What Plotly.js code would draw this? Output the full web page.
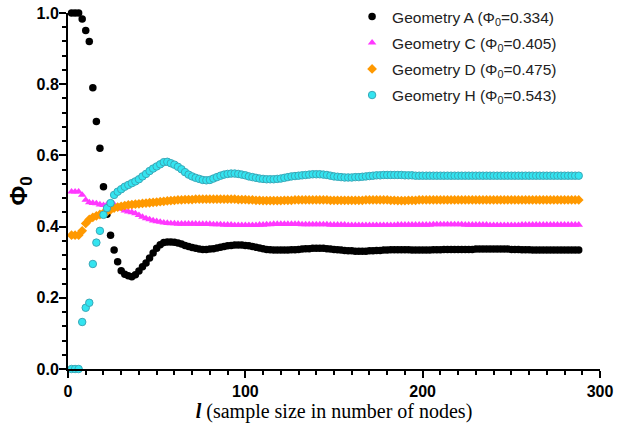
<!DOCTYPE html>
<html>
<head>
<meta charset="utf-8">
<script src="https://cdn.plot.ly/plotly-3.0.1.min.js"></script>
<style>html,body{margin:0;padding:0;background:#fff;}#chart{width:620px;height:427px;}</style>
</head>
<body>
<div id="chart"></div>
<script>
// sample size l = 2, 4, ..., 288
const sampleSize = [];
for (let l = 2; l <= 288; l += 2) sampleSize.push(l);

const seriesNames = [
  "Geometry A (Φ<sub>0</sub>=0.334)",
  "Geometry C (Φ<sub>0</sub>=0.405)",
  "Geometry D (Φ<sub>0</sub>=0.475)",
  "Geometry H (Φ<sub>0</sub>=0.543)"
];

const geomA = [
  1.0,1.0,1.0,0.983,0.951,0.92,0.79,0.695,0.62,0.512,
  0.435,0.376,0.334,0.301,0.276,0.266,0.262,0.259,0.265,0.275,
  0.287,0.298,0.312,0.326,0.339,0.349,0.355,0.357,0.357,0.356,
  0.354,0.351,0.347,0.344,0.341,0.339,0.337,0.336,0.336,0.337,
  0.338,0.340,0.342,0.344,0.346,0.347,0.348,0.348,0.348,0.347,
  0.346,0.344,0.342,0.340,0.338,0.336,0.335,0.334,0.334,0.334,
  0.334,0.334,0.335,0.335,0.336,0.337,0.338,0.338,0.339,0.339,
  0.339,0.339,0.338,0.337,0.336,0.335,0.334,0.333,0.332,0.332,
  0.331,0.331,0.331,0.331,0.332,0.332,0.333,0.333,0.334,0.334,
  0.335,0.335,0.335,0.335,0.335,0.335,0.334,0.334,0.334,0.334,
  0.334,0.334,0.335,0.335,0.335,0.336,0.336,0.336,0.336,0.336,
  0.336,0.336,0.336,0.336,0.337,0.337,0.337,0.337,0.337,0.337,
  0.337,0.337,0.337,0.337,0.336,0.336,0.336,0.335,0.335,0.335,
  0.334,0.334,0.334,0.334,0.334,0.334,0.334,0.334,0.334,0.334,
  0.334,0.334,0.334,0.334
];

const geomC = [
  0.498,0.498,0.498,0.489,0.475,0.468,0.466,0.465,0.462,0.460,
  0.462,0.466,0.462,0.455,0.450,0.445,0.442,0.440,0.437,0.432,
  0.427,0.423,0.420,0.417,0.415,0.413,0.411,0.410,0.409,0.409,
  0.408,0.408,0.408,0.408,0.408,0.408,0.407,0.407,0.407,0.407,
  0.406,0.406,0.406,0.405,0.405,0.405,0.404,0.404,0.404,0.404,
  0.404,0.404,0.404,0.405,0.405,0.406,0.406,0.407,0.407,0.407,
  0.407,0.407,0.407,0.407,0.407,0.406,0.406,0.406,0.406,0.406,
  0.406,0.406,0.406,0.405,0.405,0.405,0.405,0.405,0.404,0.404,
  0.404,0.404,0.404,0.404,0.404,0.404,0.404,0.404,0.404,0.404,
  0.404,0.404,0.405,0.405,0.405,0.405,0.405,0.405,0.405,0.405,
  0.405,0.405,0.406,0.406,0.406,0.406,0.406,0.406,0.406,0.406,
  0.406,0.405,0.405,0.405,0.405,0.405,0.405,0.405,0.404,0.404,
  0.404,0.404,0.404,0.404,0.404,0.404,0.404,0.405,0.405,0.405,
  0.405,0.405,0.405,0.405,0.405,0.405,0.405,0.405,0.405,0.405,
  0.405,0.405,0.405,0.405
];

const geomD = [
  0.376,0.376,0.376,0.388,0.409,0.420,0.426,0.430,0.434,0.438,
  0.442,0.447,0.452,0.455,0.457,0.459,0.461,0.462,0.463,0.464,
  0.465,0.466,0.467,0.468,0.469,0.470,0.471,0.472,0.473,0.474,
  0.475,0.475,0.476,0.476,0.476,0.477,0.477,0.477,0.477,0.477,
  0.477,0.477,0.477,0.477,0.477,0.477,0.477,0.476,0.476,0.476,
  0.475,0.475,0.474,0.474,0.473,0.473,0.473,0.473,0.473,0.473,
  0.474,0.474,0.474,0.475,0.475,0.475,0.475,0.475,0.475,0.475,
  0.475,0.475,0.475,0.474,0.474,0.474,0.474,0.474,0.474,0.474,
  0.474,0.474,0.474,0.475,0.475,0.475,0.475,0.475,0.475,0.475,
  0.474,0.474,0.473,0.473,0.473,0.474,0.474,0.474,0.475,0.475,
  0.475,0.475,0.475,0.475,0.475,0.475,0.475,0.475,0.475,0.475,
  0.475,0.475,0.475,0.475,0.475,0.475,0.475,0.475,0.475,0.475,
  0.475,0.475,0.475,0.475,0.475,0.475,0.475,0.475,0.475,0.475,
  0.475,0.475,0.475,0.475,0.475,0.475,0.475,0.475,0.475,0.475,
  0.475,0.475,0.475,0.475
];

const geomH = [
  0.0,0.0,0.0,0.132,0.172,0.186,0.295,0.355,0.388,0.433,
  0.452,0.466,0.489,0.498,0.505,0.512,0.517,0.522,0.527,0.533,
  0.541,0.548,0.556,0.563,0.569,0.575,0.581,0.582,0.578,0.574,
  0.568,0.561,0.553,0.546,0.541,0.537,0.534,0.531,0.530,0.531,
  0.535,0.539,0.543,0.546,0.548,0.549,0.549,0.548,0.546,0.544,
  0.541,0.539,0.537,0.535,0.534,0.533,0.533,0.533,0.534,0.535,
  0.537,0.539,0.541,0.542,0.543,0.544,0.545,0.546,0.547,0.547,
  0.547,0.546,0.545,0.543,0.541,0.540,0.539,0.538,0.538,0.538,
  0.539,0.539,0.540,0.541,0.542,0.543,0.544,0.544,0.545,0.545,
  0.545,0.545,0.545,0.545,0.544,0.544,0.544,0.543,0.543,0.543,
  0.543,0.543,0.543,0.543,0.543,0.543,0.543,0.543,0.543,0.543,
  0.543,0.543,0.543,0.543,0.543,0.543,0.543,0.543,0.543,0.543,
  0.543,0.543,0.543,0.543,0.543,0.543,0.543,0.543,0.543,0.543,
  0.543,0.543,0.543,0.543,0.543,0.543,0.543,0.543,0.543,0.543,
  0.543,0.543,0.543,0.543
];

const xTickVals = [0, 100, 200, 300];
const yTickVals = [0.0, 0.2, 0.4, 0.6, 0.8, 1.0];

function mk(y, name, marker, grp) {
  return {x: sampleSize, y: y, name: name, type: 'scatter', mode: 'markers',
          marker: marker, cliponaxis: false, legendgroup: grp};
}

const traces = [
  mk(geomA, seriesNames[0], {symbol: 'circle', size: 7.5, color: '#000000'}, 'a'),
  mk(geomC, seriesNames[1], {symbol: 'triangle-up', size: 7.5, color: '#ff38ff'}, 'c'),
  mk(geomD, seriesNames[2], {symbol: 'diamond', size: 7.5, color: '#ff9900'}, 'd'),
  mk(geomH, seriesNames[3], {symbol: 'circle', size: 7.5, color: '#33e4f0', line: {color: '#3aa8b8', width: 1}}, 'h')
];

const tickFont = {family: 'Liberation Sans, Arial, sans-serif', size: 16, color: '#000'};

const layout = {
  width: 620, height: 427,
  margin: {l: 68, r: 20, t: 0, b: 58},
  paper_bgcolor: '#fff', plot_bgcolor: '#fff',
  showlegend: true,
  legend: {
    x: 0.534, y: 1.0, xanchor: 'left', yanchor: 'top',
    font: {family: 'Liberation Sans, Arial, sans-serif', size: 15.5, color: '#222'},
    tracegroupgap: 3, bgcolor: 'rgba(0,0,0,0)'
  },
  xaxis: {
    range: [0, 300], tickvals: xTickVals, ticktext: xTickVals.map(v => '<b>' + v + '</b>'),
    showgrid: false, zeroline: false, showline: true, linecolor: '#000', linewidth: 2,
    ticks: 'outside', ticklen: 7, tickwidth: 2, tickcolor: '#000',
    minor: {dtick: 10, ticks: 'outside', ticklen: 4, tickwidth: 2, tickcolor: '#000', showgrid: false},
    tickfont: tickFont,
    title: {text: '<b><i>l</i></b> (sample size in number of nodes)',
            font: {family: 'Liberation Serif, Times New Roman, serif', size: 20, color: '#000'}, standoff: 5}
  },
  yaxis: {
    domain: [0, 356 / 369],
    range: [0, 1], tickvals: yTickVals, ticktext: yTickVals.map(v => '<b>' + v.toFixed(1) + '</b>'),
    showgrid: false, zeroline: false, showline: true, linecolor: '#000', linewidth: 2,
    ticks: 'outside', ticklen: 7, tickwidth: 2, tickcolor: '#000',
    ticklabelstandoff: -3,
    minor: {dtick: 0.04, ticks: 'outside', ticklen: 4, tickwidth: 2, tickcolor: '#000', showgrid: false},
    tickfont: tickFont,
    title: {text: '<b>Φ<sub>0</sub></b>',
            font: {family: 'Liberation Sans, Arial, sans-serif', size: 24, color: '#000'}, standoff: 2}
  }
};

Plotly.newPlot('chart', traces, layout, {displayModeBar: false, staticPlot: true});
</script>
</body>
</html>
